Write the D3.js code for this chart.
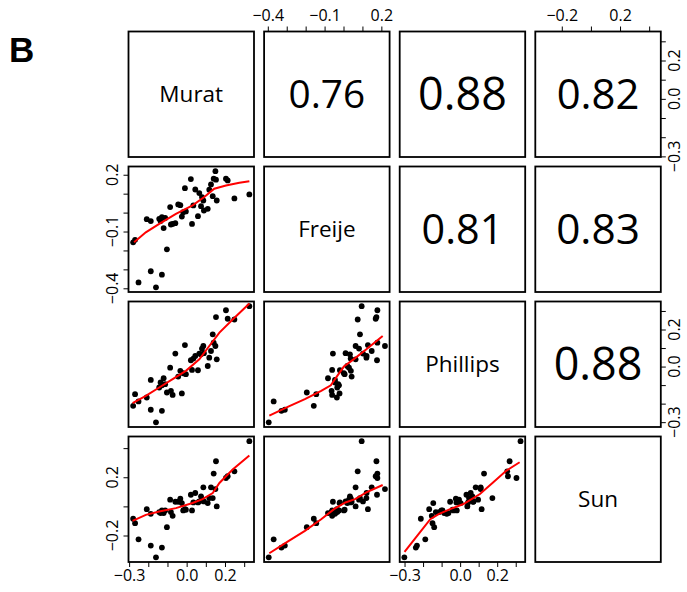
<!DOCTYPE html>
<html><head><meta charset="utf-8">
<script src="https://cdn.jsdelivr.net/npm/d3@7"></script>
<style>html,body{margin:0;padding:0;background:#fff}</style>
</head><body>
<svg id="chart" width="687" height="592"></svg>
<script>
// ---- data ----
const variables = ["Murat", "Freije", "Phillips", "Sun"];

const murat = [-0.279,-0.269,-0.251,-0.208,-0.187,-0.187,-0.160,-0.143,-0.136,-0.129,-0.129,-0.120,-0.112,-0.103,-0.086,-0.082,-0.073,-0.059,-0.044,-0.033,-0.025,-0.018,-0.009,-0.004,0.022,0.028,0.035,0.045,0.059,0.066,0.075,0.080,0.087,0.090,0.110,0.118,0.127,0.136,0.141,0.150,0.153,0.157,0.205,0.214,0.249,0.327];
const freije = [-0.157,-0.144,-0.369,-0.035,-0.045,-0.310,-0.395,-0.033,-0.045,-0.328,-0.024,-0.082,-0.028,-0.194,0.029,-0.063,-0.060,-0.056,0.043,0.039,-0.021,0.002,0.129,0.006,0.177,-0.060,0.038,0.122,-0.019,0.103,0.034,0.082,0.064,0.011,0.020,0.121,0.149,0.087,0.179,0.219,0.174,0.064,0.179,0.170,0.075,0.096];
const phillips = [-0.212,-0.149,-0.188,-0.167,-0.072,-0.233,-0.301,-0.113,-0.086,-0.239,-0.101,-0.063,-0.095,-0.140,-0.006,-0.131,-0.153,0.070,-0.054,-0.023,-0.145,-0.036,0.116,-0.041,0.034,-0.018,0.043,0.057,-0.020,0.070,0.066,0.097,0.111,0.072,0.003,0.048,0.084,0.174,0.129,0.111,0.267,0.039,0.304,0.258,0.254,0.326];
const sun = [-0.085,-0.115,-0.226,-0.019,-0.051,-0.269,-0.350,-0.039,-0.046,-0.283,-0.028,-0.046,-0.028,-0.143,0.046,-0.039,-0.065,0.032,0.032,0.053,0.023,-0.028,-0.019,-0.023,0.080,-0.028,0.027,0.092,0.027,0.034,0.069,0.046,0.131,0.034,0.023,0.057,0.131,0.057,0.225,0.119,0.310,0.000,0.195,0.207,0.241,0.448];

// correlation shown in upper panels: row variable, column variable, r
const corrRowVar = ["Murat", "Murat", "Murat", "Freije", "Freije", "Phillips"];
const corrColVar = ["Freije", "Phillips", "Sun", "Phillips", "Sun", "Sun"];
const corrValue = [0.76, 0.88, 0.82, 0.81, 0.83, 0.88];

// axis ticks and labelled ticks
const muratTicks = [-0.3,-0.2,-0.1,0,0.1,0.2,0.3];
const muratLabels = [-0.3, 0, 0.2];
const freijeTicks = [-0.4,-0.3,-0.2,-0.1,0,0.1,0.2];
const freijeLabels = [-0.4, -0.1, 0.2];
const phillipsTicks = [-0.3,-0.2,-0.1,0,0.1,0.2,0.3];
const phillipsLabels = [-0.3, 0, 0.2];
const sunTicks = [-0.2, 0, 0.2, 0.4];
const sunLabels = [-0.2, 0.2];

// smoother (red line) readings, [x, y] in data units
const smoothFreijeMurat = [[-0.274,-0.157],[-0.213,-0.104],[-0.143,-0.060],[-0.056,-0.007],[0.031,0.038],[0.092,0.082],[0.144,0.126],[0.205,0.143],[0.275,0.158],[0.327,0.166]];
const smoothPhillipsMurat = [[-0.282,-0.197],[-0.213,-0.158],[-0.143,-0.113],[-0.073,-0.068],[-0.004,-0.023],[0.066,0.039],[0.118,0.111],[0.171,0.183],[0.240,0.254],[0.327,0.340]];
const smoothSunMurat = [[-0.282,-0.099],[-0.213,-0.058],[-0.143,-0.035],[-0.056,-0.012],[0.031,0.023],[0.083,0.050],[0.136,0.092],[0.171,0.161],[0.240,0.253],[0.327,0.349]];
const smoothPhillipsFreije = [[-0.392,-0.265],[-0.289,-0.215],[-0.204,-0.176],[-0.118,-0.131],[-0.067,-0.101],[-0.033,-0.050],[0.002,0.000],[0.053,0.039],[0.121,0.093],[0.207,0.165]];
const smoothSunFreije = [[-0.392,-0.322],[-0.289,-0.237],[-0.204,-0.168],[-0.118,-0.088],[-0.050,-0.019],[0.010,0.027],[0.061,0.050],[0.121,0.096],[0.207,0.147]];
const smoothSunPhillips = [[-0.300,-0.313],[-0.232,-0.203],[-0.161,-0.088],[-0.116,-0.053],[-0.054,-0.019],[0.018,0.016],[0.107,0.085],[0.179,0.166],[0.250,0.246],[0.321,0.303]];

// ---- layout ----
const columns = [murat, freije, phillips, sun];
const tickSets = [muratTicks, freijeTicks, phillipsTicks, sunTicks];
const labelSets = [muratLabels, freijeLabels, phillipsLabels, sunLabels];
const smoothByPair = {
  "1-0": smoothFreijeMurat, "2-0": smoothPhillipsMurat, "3-0": smoothSunMurat,
  "2-1": smoothPhillipsFreije, "3-1": smoothSunFreije, "3-2": smoothSunPhillips
};

const FONT = "'Open Sans', 'Noto Sans', sans-serif";
const panel = 125.5, stepX = 135.6, stepY = 135.0, x0 = 128.5, y0 = 31.5;
const n = variables.length;
const TICK_FONT = 16;

const svg = d3.select("#chart");
const fmt = v => (v < 0 ? "\u2212" : "") + Math.abs(v).toFixed(1);

function domainOf(arr) {
  const [lo, hi] = d3.extent(arr);
  const pad = (hi - lo) * 0.04;
  return [lo - pad, hi + pad];
}

const xScales = columns.map((arr, j) =>
  d3.scaleLinear().domain(domainOf(arr)).range([x0 + j * stepX, x0 + j * stepX + panel]));
const yScales = columns.map((arr, i) =>
  d3.scaleLinear().domain(domainOf(arr)).range([y0 + i * stepY + panel, y0 + i * stepY]));

// panel label "B"
svg.append("text").attr("x", 9).attr("y", 62)
  .attr("font-family", "'Liberation Sans', Arial, sans-serif").attr("font-weight", "bold")
  .attr("font-size", 35).text("B");

for (let i = 0; i < n; i++) {
  for (let j = 0; j < n; j++) {
    const left = x0 + j * stepX, top = y0 + i * stepY;
    const g = svg.append("g");
    const cx = left + panel / 2, cy = top + panel / 2;
    if (i === j) {
      g.append("text").attr("x", cx).attr("y", cy).attr("dy", "0.35em")
        .attr("text-anchor", "middle").attr("font-family", FONT).attr("font-size", 22.5)
        .text(variables[i]);
    } else if (i < j) {
      const k = corrRowVar.findIndex((r, idx) => r === variables[i] && corrColVar[idx] === variables[j]);
      const r = corrValue[k];
      g.append("text").attr("x", cx).attr("y", cy).attr("dy", "0.36em")
        .attr("text-anchor", "middle").attr("font-family", FONT).attr("font-size", 51 * r)
        .text(r.toFixed(2));
    } else {
      const xs = xScales[j], ys = yScales[i];
      const xd = columns[j], yd = columns[i];
      g.selectAll("circle").data(d3.range(xd.length)).join("circle")
        .attr("cx", k => xs(xd[k])).attr("cy", k => ys(yd[k])).attr("r", 2.9).attr("fill", "#000");
      const sm = smoothByPair[i + "-" + j];
      g.append("path").datum(sm)
        .attr("d", d3.line().x(d => xs(d[0])).y(d => ys(d[1])))
        .attr("fill", "none").attr("stroke", "#ff0000").attr("stroke-width", 2);
    }
    g.append("rect").attr("x", left).attr("y", top).attr("width", panel).attr("height", panel)
      .attr("fill", "none").attr("stroke", "#000").attr("stroke-width", 1.8);
  }
}

function addAxis(side, idx) {
  const ticks = tickSets[idx], labels = labelSets[idx];
  if (side === "bottom" || side === "top") {
    const row = side === "bottom" ? n - 1 : 0;
    const top = y0 + row * stepY;
    const scale = xScales[idx];
    const yPos = side === "bottom" ? top + panel : top;
    const axis = (side === "bottom" ? d3.axisBottom(scale) : d3.axisTop(scale))
      .tickValues(ticks).tickSize(5).tickPadding(side === "bottom" ? 3 : 6)
      .tickFormat(v => labels.some(l => Math.abs(l - v) < 1e-9) ? fmt(v) : "");
    const ag = svg.append("g").attr("transform", `translate(0,${yPos})`).call(axis);
    ag.select(".domain").remove();
    ag.selectAll("line").attr("stroke", "#000").attr("stroke-width", 1);
    ag.selectAll("text").attr("font-family", FONT).attr("font-size", TICK_FONT).attr("fill", "#000");
  } else {
    const col = side === "left" ? 0 : n - 1;
    const left = x0 + col * stepX;
    const xPos = side === "left" ? left : left + panel;
    const scale = yScales[idx];
    const axis = (side === "left" ? d3.axisLeft(scale) : d3.axisRight(scale))
      .tickValues(ticks).tickSize(5).tickFormat("");
    const ag = svg.append("g").attr("transform", `translate(${xPos},0)`).call(axis);
    ag.select(".domain").remove();
    ag.selectAll("line").attr("stroke", "#000").attr("stroke-width", 1);
    const baseX = side === "left" ? xPos - 10.5 : xPos + 19;
    svg.append("g").selectAll("text").data(labels).join("text")
      .attr("transform", v => `translate(${baseX},${scale(v)}) rotate(-90)`)
      .attr("text-anchor", "middle").attr("font-family", FONT).attr("font-size", TICK_FONT)
      .text(fmt);
  }
}

for (let j = 0; j < n; j++) addAxis(j % 2 === 0 ? "bottom" : "top", j);
for (let i = 0; i < n; i++) addAxis(i % 2 === 1 ? "left" : "right", i);
</script>
</body></html>
